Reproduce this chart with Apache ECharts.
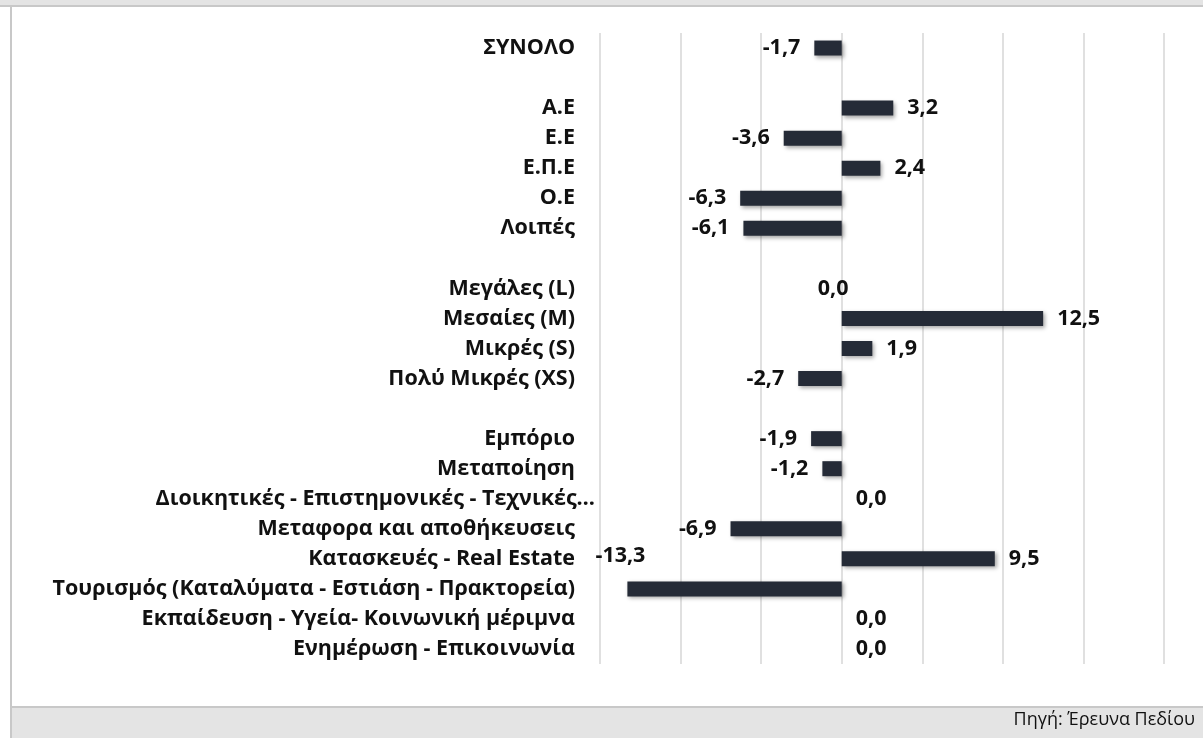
<!DOCTYPE html>
<html>
<head>
  <meta charset="UTF-8">
  <title>Chart</title>
  <script src="https://cdn.jsdelivr.net/npm/echarts@6/dist/echarts.min.js"></script>
  <style>
    html, body { margin: 0; padding: 0; background: #fff; }
    #main { width: 1203px; height: 738px; }
  </style>
</head>
<body>
<div id="main"></div>
<script type="text/javascript">
  // categories (blank rows separate the groups)
  var categories = [
    'ΣΥΝΟΛΟ', ' ',
    'Α.Ε', 'Ε.Ε', 'Ε.Π.Ε', 'Ο.Ε', 'Λοιπές', '  ',
    'Μεγάλες (L)', 'Μεσαίες (M)', 'Μικρές (S)', 'Πολύ Μικρές (XS)', '   ',
    'Εμπόριο', 'Μεταποίηση', 'Διοικητικές - Επιστημονικές - Τεχνικές…',
    'Μεταφορα και αποθήκευσεις', 'Κατασκευές - Real Estate',
    'Τουρισμός (Καταλύματα - Εστιάση - Πρακτορεία)',
    'Εκπαίδευση - Υγεία- Κοινωνική μέριμνα', 'Ενημέρωση - Επικοινωνία'
  ];
  var values = [
    -1.7, null,
    3.2, -3.6, 2.4, -6.3, -6.1, null,
    0.0, 12.5, 1.9, -2.7, null,
    -1.9, -1.2, 0.0, -6.9, 9.5, -13.3, 0.0, 0.0
  ];
  var xTicks = { min: -15, max: 20, step: 5 };
  var source = 'Πηγή: Έρευνα Πεδίου';

  var FONT = '"Open Sans", "Noto Sans", sans-serif';
  var LABEL_SIZE = 21.5;

  // label nudges as in the original sheet
  var labelOffsets = {
    'Μεγάλες (L)': [-38, 0],
    'Τουρισμός (Καταλύματα - Εστιάση - Πρακτορεία)': [32, -33]
  };

  var barData = values.map(function (v, i) {
    if (v === null) return null;
    var item = {
      value: v,
      label: { position: v < 0 ? 'left' : 'right' }
    };
    if (labelOffsets[categories[i]]) item.label.offset = labelOffsets[categories[i]];
    return item;
  });

  var myChart = echarts.init(document.getElementById('main'));

  var option = {
    backgroundColor: '#ffffff',
    animation: false,
    textStyle: { fontFamily: FONT },
    grid: { left: 600, right: 39, top: 33, bottom: 74 },
    xAxis: {
      type: 'value',
      min: xTicks.min,
      max: xTicks.max,
      interval: xTicks.step,
      axisLabel: { show: false },
      axisLine: { show: false },
      axisTick: { show: false },
      splitLine: { show: true, lineStyle: { color: '#d6d6d6', width: 1.5 } }
    },
    yAxis: {
      type: 'category',
      inverse: true,
      data: categories,
      axisLine: { show: false },
      axisTick: { show: false },
      axisLabel: {
        margin: 25,
        fontSize: LABEL_SIZE,
        fontWeight: 'bold',
        color: '#111',
        fontFamily: FONT,
        // truncated label: the ellipsis hangs past the right edge like in Excel
        formatter: function (v) {
          if (v.slice(-1) === '…') {
            return '{b|' + v.slice(0, -1) + '}{e|…}';
          }
          return v;
        },
        rich: {
          b: { fontSize: LABEL_SIZE, fontWeight: 'bold', fontFamily: FONT, color: '#111' },
          e: { fontSize: LABEL_SIZE, fontWeight: 'bold', fontFamily: FONT, color: '#111', padding: [0, -20, 0, 0] }
        }
      }
    },
    series: [{
      type: 'bar',
      data: barData,
      barWidth: 15,
      itemStyle: {
        color: '#252b37',
        shadowColor: 'rgba(0,0,0,0.35)',
        shadowBlur: 4,
        shadowOffsetX: 2,
        shadowOffsetY: 2
      },
      label: {
        show: true,
        distance: 14,
        fontSize: LABEL_SIZE,
        fontWeight: 'bold',
        color: '#111',
        fontFamily: FONT,
        formatter: function (p) {
          return p.value.toFixed(1).replace('.', ',');
        }
      }
    }],
    graphic: [
      // top strip of the cut-off title box
      { type: 'rect', shape: { x: 0, y: 0, width: 1203, height: 5 }, style: { fill: '#e4e4e4' }, silent: true },
      { type: 'rect', shape: { x: 0, y: 5, width: 1203, height: 2 }, style: { fill: '#c8c8c8' }, silent: true },
      // left frame line
      { type: 'rect', shape: { x: 10, y: 7, width: 2, height: 731 }, style: { fill: '#c8c8c8' }, silent: true },
      // footer band
      { type: 'rect', shape: { x: 12, y: 708, width: 1191, height: 30 }, style: { fill: '#e4e4e4' }, silent: true },
      { type: 'rect', shape: { x: 12, y: 706, width: 1191, height: 2 }, style: { fill: '#c8c8c8' }, silent: true },
      {
        type: 'text',
        right: 8,
        top: 711,
        style: {
          text: source,
          fontSize: 18,
          fontFamily: FONT,
          fill: '#111'
        }
      }
    ]
  };

  myChart.setOption(option);
</script>
</body>
</html>
